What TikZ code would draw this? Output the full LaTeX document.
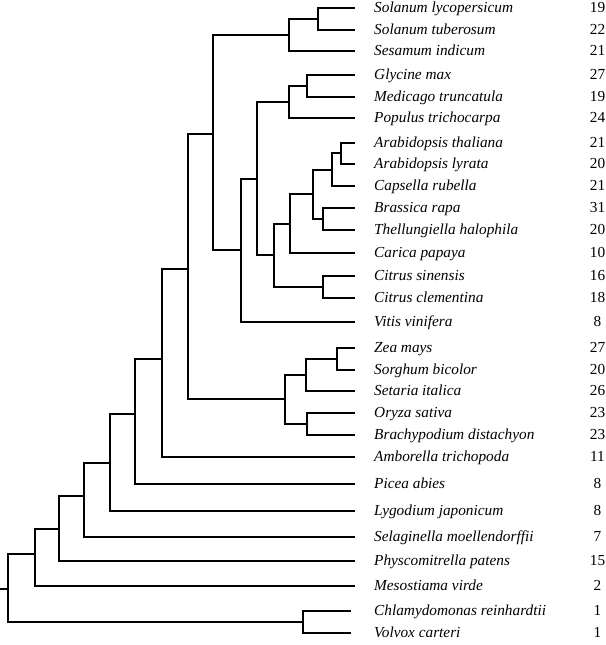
\documentclass[tikz,border=0pt]{standalone}
\usepackage{fontspec}
\setmainfont{Liberation Serif}
\begin{document}
\begin{tikzpicture}[x=1pt,y=-1pt]
\tikzset{
  br/.style={line width=2.6pt, line join=miter},
  lab/.style={anchor=mid west, inner sep=0pt, yshift=-2.5pt, font=\itshape\fontsize{15.3}{18}\selectfont},
  num/.style={anchor=mid, inner sep=0pt, yshift=-2.5pt, font=\fontsize{15.3}{18}\selectfont}
}
\useasboundingbox (0,0) rectangle (605,645);
% leaves
\foreach \i/\tx/\y/\name/\n in {
  1/355/8/Solanum lycopersicum/19,
  2/355/30/Solanum tuberosum/22,
  3/355/51/Sesamum indicum/21,
  4/355/75/Glycine max/27,
  5/355/97/Medicago truncatula/19,
  6/355/118/Populus trichocarpa/24,
  7/355/143/Arabidopsis thaliana/21,
  8/355/164/Arabidopsis lyrata/20,
  9/355/186/Capsella rubella/21,
  10/355/208/Brassica rapa/31,
  11/355/230/Thellungiella halophila/20,
  12/355/253/Carica papaya/10,
  13/355/276/Citrus sinensis/16,
  14/355/298/Citrus clementina/18,
  15/355/322/Vitis vinifera/8,
  16/355/348/Zea mays/27,
  17/355/370/Sorghum bicolor/20,
  18/355/391/Setaria italica/26,
  19/355/413/Oryza sativa/23,
  20/355/435/Brachypodium distachyon/23,
  21/355/457/Amborella trichopoda/11,
  22/355/484/Picea abies/8,
  23/355/511/Lygodium japonicum/8,
  24/355/537/Selaginella moellendorffii/7,
  25/355/561/Physcomitrella patens/15,
  26/355/586/Mesostiama virde/2,
  27/351/611/Chlamydomonas reinhardtii/1,
  28/351/633/Volvox carteri/1}{
  \coordinate (t\i) at (\tx,\y);
  \node[lab] (l\i) at (374,\y) {\name};
  \node[num] (c\i) at (597.5,\y) {\n};
}
% internal nodes
\coordinate (n1) at (318,19);
\coordinate (n2) at (289,35);
\coordinate (n3) at (307,86);
\coordinate (n4) at (289,102);
\coordinate (n5) at (341,153);
\coordinate (n6) at (332,170);
\coordinate (n7) at (323,219);
\coordinate (n8) at (313,194);
\coordinate (n9) at (290,224);
\coordinate (n10) at (323,287);
\coordinate (n11) at (274,255);
\coordinate (n12) at (257,179);
\coordinate (n13) at (241,250);
\coordinate (n14) at (213,134);
\coordinate (n15) at (337,359);
\coordinate (n16) at (306,375);
\coordinate (n18) at (307,424);
\coordinate (n17) at (285,399);
\coordinate (n19) at (188,269);
\coordinate (n20) at (162,359);
\coordinate (n21) at (135,414);
\coordinate (n22) at (110,463);
\coordinate (n23) at (84,496);
\coordinate (n24) at (59,529);
\coordinate (n25) at (35,554);
\coordinate (n26) at (303,622);
\coordinate (root) at (8,589);
\coordinate (stub) at (0,589);
% branches
\draw[br] (t1) -| (n1) |- (t2);
\draw[br] (n1) -| (n2) |- (t3);
\draw[br] (t4) -| (n3) |- (t5);
\draw[br] (n3) -| (n4) |- (t6);
\draw[br] (t7) -| (n5) |- (t8);
\draw[br] (n5) -| (n6) |- (t9);
\draw[br] (t10) -| (n7) |- (t11);
\draw[br] (n6) -| (n8) |- (n7);
\draw[br] (n8) -| (n9) |- (t12);
\draw[br] (t13) -| (n10) |- (t14);
\draw[br] (n9) -| (n11) |- (n10);
\draw[br] (n4) -| (n12) |- (n11);
\draw[br] (n12) -| (n13) |- (t15);
\draw[br] (n2) -| (n14) |- (n13);
\draw[br] (t16) -| (n15) |- (t17);
\draw[br] (n15) -| (n16) |- (t18);
\draw[br] (t19) -| (n18) |- (t20);
\draw[br] (n16) -| (n17) |- (n18);
\draw[br] (n14) -| (n19) |- (n17);
\draw[br] (n19) -| (n20) |- (t21);
\draw[br] (n20) -| (n21) |- (t22);
\draw[br] (n21) -| (n22) |- (t23);
\draw[br] (n22) -| (n23) |- (t24);
\draw[br] (n23) -| (n24) |- (t25);
\draw[br] (n24) -| (n25) |- (t26);
\draw[br] (t27) -| (n26) |- (t28);
\draw[br] (n25) -| (root) |- (n26);
\draw[br] (stub) -- (root);
\end{tikzpicture}
\end{document}
